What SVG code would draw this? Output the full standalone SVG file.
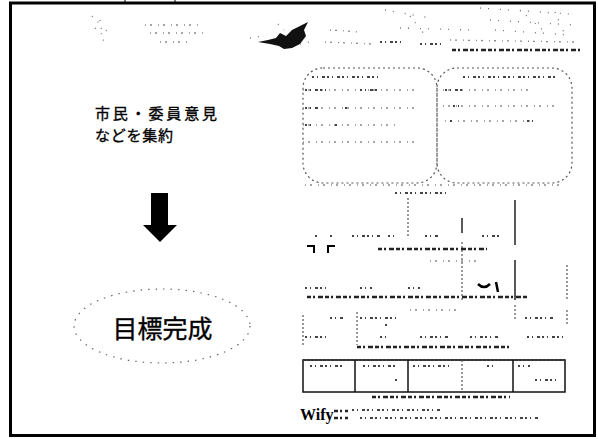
<svg xmlns="http://www.w3.org/2000/svg" width="598" height="439" viewBox="0 0 598 439">
<style>
.frame{fill:none;stroke:#000;stroke-width:3}
.jp{font-family:"Noto Sans CJK JP","Noto Sans",sans-serif;fill:#000;stroke:#000;stroke-width:0.35}
.box{fill:none;stroke:#555;stroke-width:1.2;stroke-dasharray:2 3}
.vd{stroke:#555;stroke-width:1.2;stroke-dasharray:2 2}
.vs{stroke:#222;stroke-width:1.5}
.nz{stroke:#444;stroke-width:2;fill:none;stroke-dasharray:2 3 1 4 3 2}
.nzb{stroke:#222;stroke-width:2.5;fill:none;stroke-dasharray:4 2 2 3 5 2}
.nzl{stroke:#888;stroke-width:1.3;fill:none;stroke-dasharray:1 4 2 6}
.dots{stroke:#777;stroke-width:1.3;fill:none;stroke-dasharray:1 7 1 11}
</style>
<rect width="598" height="439" fill="#fff"/>
<g id="frame">
<rect class="frame" x="10.5" y="3" width="584" height="432.5"/>
<line x1="125" y1="0" x2="125" y2="3" stroke="#000"/>
<line x1="175" y1="0" x2="175" y2="3" stroke="#000"/>
</g>
<g id="header-noise">
<path class="dots" d="M92,16 L100,24 M95,28 L108,40 M100,20 L104,44 M106,30 L110,36"/>
<path class="nzl" d="M145,25 L200,25 M150,33 L205,33 M160,42 L190,42"/>
<path d="M258,42 L268,40 L276,38 L280,33 L286,36 L292,30 L300,26 L308,22 L304,30 L306,36 L300,44 L292,48 L284,49 L279,46 L270,44 Z" fill="#111"/>
<path class="dots" d="M250,38 L262,36 M278,24 L284,30 M300,44 L318,40"/>
<path class="nzl" d="M330,30 L360,32 M325,42 L375,44"/>
<path class="dots" d="M385,10 L430,18 M400,28 L470,30 M410,16 L425,35 M480,8 L570,14 M490,20 L575,25 M495,30 L570,35 M520,10 L545,32 M555,12 L565,35"/>
<path class="nz" d="M380,42 L405,42 M420,44 L445,44"/>
<path class="nzl" d="M450,40 L575,42"/>
<path class="nzb" d="M452,50 L580,50"/>
</g>
<g id="text-opinions">
<text class="jp" x="95" y="119" font-size="15" textLength="122" lengthAdjust="spacing">市民・委員意見</text>
<text class="jp" x="95" y="141" font-size="15" textLength="78" lengthAdjust="spacing">などを集約</text>
</g>
<g id="connectors">
<path d="M151,193 L168,193 L168,225 L177,225 L160,242 L143,225 L151,225 Z" fill="#000"/>
</g>
<g id="goal">
<ellipse cx="162" cy="326" rx="88" ry="37" fill="none" stroke="#666" stroke-width="1.2" stroke-dasharray="1.5 6"/>
<text class="jp" x="162.5" y="338" font-size="25" text-anchor="middle">目標完成</text>
</g>
<g id="box-left">
<rect class="box" x="303" y="68" width="134" height="115" rx="20"/>
<path class="nz" d="M312,77 L380,77"/>
<path class="nzl" d="M303,90 L420,90 M303,108 L420,108 M303,125 L395,125 M303,142 L415,142"/>
<path class="nz" d="M305,90 L330,90 M360,90 L380,90 M305,108 L320,108 M345,108 L350,108 M305,125 L312,125 M335,125 L340,125"/>
</g>
<g id="box-right">
<rect class="box" x="437" y="68" width="135" height="115" rx="20"/>
<path class="nz" d="M463,77 L557,77"/>
<path class="nzl" d="M443,90 L530,90 M443,106 L558,106 M445,121 L535,121"/>
<path class="nz" d="M445,90 L465,90 M453,106 L462,106 M450,121 L455,121 M527,121 L535,121"/>
</g>
<g id="chart-middle">
<path class="nzl" d="M305,185 L560,185"/>
<path class="nz" d="M395,193 L450,193"/>
<line class="vd" x1="408" y1="198" x2="408" y2="237"/>
<line class="vs" x1="462" y1="218" x2="462" y2="233"/>
<line class="vd" x1="462" y1="242" x2="462" y2="300"/>
<line class="vs" x1="515" y1="200" x2="515" y2="245"/>
<line class="vs" x1="515" y1="260" x2="515" y2="300"/>
<line class="vd" x1="567" y1="265" x2="567" y2="300"/>
<path class="nz" d="M315,236 L318,236 M330,236 L335,236 M352,236 L380,236 M388,236 L398,236 M425,236 L440,236 M482,236 L500,236"/>
<path d="M307,246 L314,246 L314,253 M328,253 L328,246 L335,246" stroke="#000" stroke-width="2" fill="none"/>
<path class="nzb" d="M378,249 L487,249"/>
<path class="nzl" d="M430,261 L480,261"/>
<path class="nz" d="M305,288 L330,288 M360,288 L372,288 M408,288 L420,288"/>
<path d="M478,284 Q484,290 490,284 M496,282 L498,292" stroke="#000" stroke-width="2.5" fill="none"/>
<path class="nzb" d="M307,297 L527,297"/>
<path class="nzl" d="M410,310 L460,310"/>
<line class="vd" x1="303" y1="315" x2="303" y2="345"/>
<line class="vd" x1="357" y1="312" x2="357" y2="345"/>
<line class="vd" x1="515" y1="305" x2="515" y2="320"/>
<line class="vd" x1="567" y1="310" x2="567" y2="325"/>
<path class="nz" d="M330,318 L345,318 M360,318 L400,318 M525,318 L555,318 M385,325 L390,325"/>
<path class="nz" d="M305,337 L330,337 M380,337 L390,337 M420,337 L450,337 M470,337 L500,337 M527,337 L563,337"/>
<path class="nzb" d="M357,347 L510,347"/>
</g>
<g id="table">
<rect x="303" y="360" width="262" height="32" fill="none" stroke="#111" stroke-width="1.5"/>
<path d="M303,360 L565,360" stroke="#333" stroke-width="2" stroke-dasharray="3 1"/>
<line x1="355" y1="360" x2="355" y2="392" stroke="#111" stroke-width="1.5"/>
<line x1="408" y1="360" x2="408" y2="392" stroke="#111" stroke-width="1.5"/>
<line class="vd" x1="462" y1="360" x2="462" y2="392"/>
<line x1="513" y1="360" x2="513" y2="392" stroke="#111" stroke-width="1.5"/>
<path class="nz" d="M310,366 L345,366 M363,366 L395,366 M413,366 L450,366 M487,366 L495,366 M518,366 L530,366 M395,380 L400,380 M535,380 L560,380"/>
<path class="nzb" d="M372,397 L510,397"/>
</g>
<g id="footer">
<text x="300" y="420" font-family="Liberation Serif,serif" font-weight="bold" font-size="16">Wify</text>
<path class="nzb" d="M334,411 L348,411 M334,418 L348,418"/>
<path class="nz" d="M352,410 L440,410 M360,418 L540,418"/>
</g>
</svg>
